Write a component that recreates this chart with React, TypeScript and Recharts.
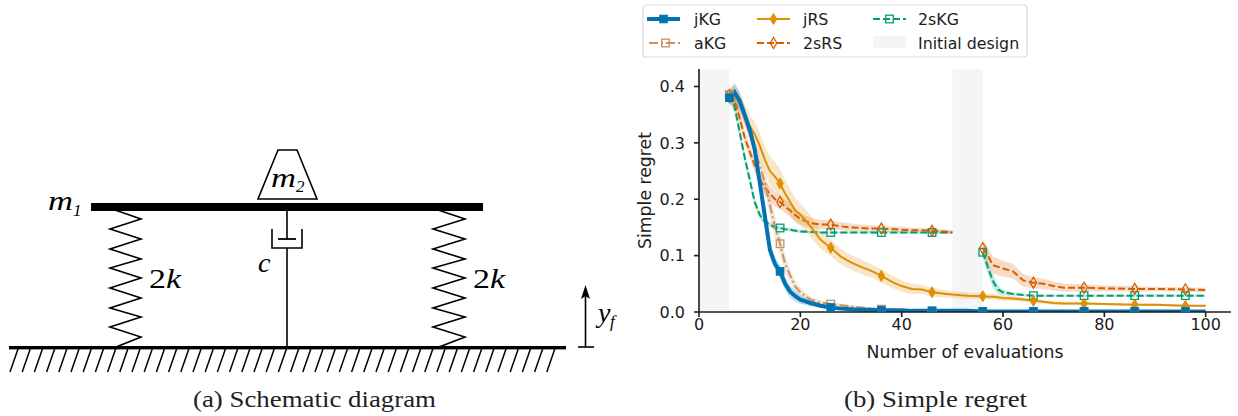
import {
  ComposedChart,
  Line,
  Area,
  XAxis,
  YAxis,
  ReferenceArea,
  Legend,
} from "recharts";

const evals = [
  6, 7, 8, 9, 10, 11, 12, 13, 14, 15, 16, 17, 18, 19, 20,
  22, 24, 26, 28, 30, 32, 34, 36, 38, 40, 42, 44, 46, 48, 50,
  53,
  56, 57, 58, 59, 60,
  62, 64, 66, 68, 70, 72,
  76, 80, 86, 90, 96, 100,
];

const jKG = [
  0.38, 0.39, 0.375, 0.35, 0.324, 0.288, 0.229, 0.17, 0.11, 0.085, 0.072, 0.05, 0.036, 0.028, 0.022,
  0.016, 0.011, 0.008, 0.006, 0.005, 0.004, 0.004, 0.003, 0.003, 0.003, 0.002, 0.002, 0.002, 0.002, 0.002,
  0.002,
  0.001, 0.001, 0.001, 0.001, 0.001,
  0.001, 0.001, 0.001, 0.001, 0.001, 0.001,
  0.001, 0.001, 0.001, 0.001, 0.001, 0.001,
];
const jKGSpread = [
  0.012, 0.016, 0.016, 0.014, 0.012, 0.012, 0.012, 0.012, 0.012, 0.012, 0.012, 0.012, 0.011, 0.01, 0.008,
  0.006, 0.004, 0.003, 0.002, 0.002, 0.001, 0.001, 0.001, 0.001, 0.001, 0.001, 0.001, 0.001, 0.001, 0.001,
  0.001,
  0.001, 0.001, 0.001, 0.001, 0.001,
  0.001, 0.001, 0.001, 0.001, 0.001, 0.001,
  0.001, 0.001, 0.001, 0.001, 0.001, 0.001,
];

const aKG = [
  0.385, 0.38, 0.37, 0.345, 0.315, 0.29, 0.26, 0.23, 0.19, 0.15, 0.121, 0.085, 0.065, 0.045, 0.035,
  0.022, 0.017, 0.014, 0.012, 0.01, 0.008, 0.006, 0.005, 0.004, 0.003, 0.003, 0.002, 0.002, 0.002, 0.002,
  0.002,
  0.001, 0.001, 0.001, 0.001, 0.001,
  0.001, 0.001, 0.001, 0.001, 0.001, 0.001,
  0.001, 0.001, 0.001, 0.001, 0.001, 0.001,
];
const aKGSpread = [
  0.01, 0.012, 0.012, 0.012, 0.014, 0.016, 0.018, 0.02, 0.02, 0.02, 0.018, 0.015, 0.012, 0.01, 0.008,
  0.005, 0.004, 0.003, 0.003, 0.002, 0.002, 0.002, 0.002, 0.001, 0.001, 0.001, 0.001, 0.001, 0.001, 0.001,
  0.001,
  0.001, 0.001, 0.001, 0.001, 0.001,
  0.001, 0.001, 0.001, 0.001, 0.001, 0.001,
  0.001, 0.001, 0.001, 0.001, 0.001, 0.001,
];

const jRS = [
  0.38, 0.385, 0.37, 0.35, 0.33, 0.315, 0.295, 0.27, 0.25, 0.24, 0.228, 0.21, 0.195, 0.18, 0.173,
  0.152, 0.128, 0.114, 0.098, 0.088, 0.08, 0.073, 0.064, 0.054, 0.046, 0.041, 0.04, 0.035, 0.033, 0.031,
  0.029,
  0.028, 0.027, 0.027, 0.026, 0.025,
  0.024, 0.022, 0.02, 0.018, 0.016, 0.015,
  0.015, 0.014, 0.013, 0.013, 0.011, 0.011,
];
const jRSSpread = [
  0.015, 0.018, 0.02, 0.02, 0.02, 0.022, 0.022, 0.024, 0.026, 0.026, 0.025, 0.024, 0.023, 0.022, 0.02,
  0.02, 0.016, 0.015, 0.014, 0.013, 0.013, 0.012, 0.012, 0.011, 0.01, 0.009, 0.008, 0.008, 0.007, 0.006,
  0.006,
  0.005, 0.005, 0.005, 0.005, 0.005,
  0.004, 0.004, 0.004, 0.003, 0.003, 0.003,
  0.003, 0.002, 0.002, 0.002, 0.002, 0.002,
];

const twoSRS = [
  0.385, 0.375, 0.345, 0.31, 0.285, 0.26, 0.235, 0.22, 0.21, 0.2, 0.195, 0.187, 0.18, 0.172, 0.165,
  0.158, 0.155, 0.155, 0.152, 0.15, 0.149, 0.148, 0.148, 0.147, 0.146, 0.145, 0.145, 0.144, 0.143, 0.142,
  null,
  0.113, 0.1, 0.083, 0.08, 0.077,
  0.072, 0.056, 0.052, 0.05, 0.046, 0.043,
  0.043, 0.042, 0.041, 0.041, 0.04, 0.039,
];
const twoSRSSpread = [
  0.01, 0.012, 0.012, 0.012, 0.012, 0.012, 0.013, 0.013, 0.013, 0.013, 0.012, 0.012, 0.012, 0.011, 0.01,
  0.009, 0.008, 0.008, 0.007, 0.007, 0.006, 0.006, 0.005, 0.005, 0.005, 0.004, 0.004, 0.004, 0.004, 0.003,
  null,
  0.015, 0.015, 0.015, 0.015, 0.014,
  0.013, 0.011, 0.01, 0.009, 0.008, 0.007,
  0.006, 0.005, 0.005, 0.004, 0.004, 0.004,
];

const twoSKG = [
  0.385, 0.365, 0.32, 0.275, 0.235, 0.195, 0.172, 0.16, 0.155, 0.15, 0.149, 0.147, 0.146, 0.144, 0.143,
  0.142, 0.141, 0.141, 0.141, 0.141, 0.141, 0.141, 0.141, 0.141, 0.141, 0.141, 0.141, 0.141, 0.141, 0.141,
  null,
  0.106, 0.08, 0.055, 0.04, 0.035,
  0.032, 0.03, 0.029, 0.029, 0.029, 0.029,
  0.029, 0.029, 0.029, 0.029, 0.029, 0.029,
];
const twoSKGSpread = [
  0.012, 0.012, 0.012, 0.011, 0.01, 0.009, 0.007, 0.005, 0.004, 0.004, 0.003, 0.003, 0.003, 0.003, 0.003,
  0.002, 0.002, 0.002, 0.002, 0.002, 0.002, 0.002, 0.002, 0.002, 0.002, 0.002, 0.002, 0.002, 0.002, 0.002,
  null,
  0.01, 0.012, 0.012, 0.008, 0.005,
  0.003, 0.002, 0.002, 0.002, 0.002, 0.002,
  0.002, 0.002, 0.002, 0.002, 0.002, 0.002,
];

const markerEvals = [6, 16, 26, 36, 46, 56, 66, 76, 86, 96];
const xTicks = [0, 20, 40, 60, 80, 100];
const yTicks = [0, 0.1, 0.2, 0.3, 0.4];
const initialDesign = [
  [0, 6],
  [50, 56],
];

const series = [
  { name: "2sKG", values: twoSKG, spread: twoSKGSpread, color: "#029e73", marker: "square", open: true, dash: "7 3", width: 2 },
  { name: "2sRS", values: twoSRS, spread: twoSRSSpread, color: "#d55e00", marker: "diamond", open: true, dash: "7 3", width: 2 },
  { name: "jRS", values: jRS, spread: jRSSpread, color: "#de8f05", marker: "diamond", open: false, dash: undefined, width: 2 },
  { name: "aKG", values: aKG, spread: aKGSpread, color: "#ca9161", marker: "square", open: true, dash: "9 3 2 3", width: 2 },
  { name: "jKG", values: jKG, spread: jKGSpread, color: "#0173b2", marker: "square", open: false, dash: undefined, width: 4 },
];

const chartData = evals.map((x, i) => {
  const row: Record<string, any> = { x };
  series.forEach((s) => {
    const v = s.values[i];
    const sp = s.spread[i];
    row[s.name] = v;
    row[s.name + "Band"] = v === null || sp === null ? null : [Math.max(0, v - sp), v + sp];
  });
  return row;
});

const FONT = "DejaVu Sans";
const SERIF = "Liberation Serif";
const INK = "#1c1c1c";

function Marker({ cx, cy, kind, color, open }: any) {
  const fill = open ? "none" : color;
  if (kind === "square") {
    return <rect x={cx - 3.8} y={cy - 3.8} width={7.6} height={7.6} fill={fill} stroke={color} strokeWidth={open ? 1.3 : 1} />;
  }
  const points = `${cx},${cy - 5.5} ${cx + 3.3},${cy} ${cx},${cy + 5.5} ${cx - 3.3},${cy}`;
  return <polygon points={points} fill={fill} stroke={color} strokeWidth={open ? 1.3 : 1} />;
}

function LegendContent() {
  const rows = [
    { name: "jKG", color: "#0173b2", marker: "square", open: false, dash: undefined, width: 4, sw: 647, tx: 694, y: 19 },
    { name: "jRS", color: "#de8f05", marker: "diamond", open: false, dash: undefined, width: 2, sw: 757, tx: 803, y: 19 },
    { name: "2sKG", color: "#029e73", marker: "square", open: true, dash: "7 3", width: 2, sw: 873, tx: 918, y: 19 },
    { name: "aKG", color: "#ca9161", marker: "square", open: true, dash: "9 3 2 3", width: 2, sw: 649, tx: 694, y: 43 },
    { name: "2sRS", color: "#d55e00", marker: "diamond", open: true, dash: "7 3", width: 2, sw: 757, tx: 803, y: 43 },
  ];
  return (
    <svg width={386} height={54} style={{ display: "block" }}>
      <g transform="translate(-642,-4)">
        <rect x={643} y={5} width={384} height={52} rx={3} fill="#fff" stroke="#d9d9d9" strokeWidth={1.2} />
        {rows.map((r) => (
          <g key={r.name}>
            <line x1={r.sw} x2={r.sw + 33} y1={r.y} y2={r.y} stroke={r.color} strokeWidth={r.width} strokeDasharray={r.dash} />
            <Marker cx={r.sw + 16.5} cy={r.y} kind={r.marker} color={r.color} open={r.open} />
            <text x={r.tx} y={r.y + 5.5} fontFamily={FONT} fontSize={15.8} fill={INK}>{r.name}</text>
          </g>
        ))}
        <rect x={873} y={36} width={33} height={12} fill="#f5f5f5" />
        <text x={918} y={48.5} fontFamily={FONT} fontSize={15.8} fill={INK}>Initial design</text>
      </g>
    </svg>
  );
}

function springPoints(x0: number, left: number, right: number) {
  const ys = [219, 229, 239, 249, 259, 268, 278, 288, 298, 308, 317, 327, 337];
  const pts = [`${x0},210`];
  ys.forEach((y, i) => pts.push(`${i % 2 === 0 ? right : left},${y}`));
  pts.push(`${x0 + 1},347`);
  return pts.join(" ");
}

function Schematic() {
  const hatchTops = [];
  for (let x = 18; x <= 566; x += 12.2) hatchTops.push(x);
  const mathText = { fontFamily: SERIF, fontStyle: "italic", fill: "#000", lengthAdjust: "spacingAndGlyphs" } as const;
  return (
    <svg width={1238} height={416} style={{ position: "absolute", left: 0, top: 0 }}>
      <rect x={91} y={203} width={392} height={8} fill="#000" />
      <polygon points="278,150 297,150 317,199 258,199" fill="#fff" stroke="#000" strokeWidth={1.6} />
      <text x={271} y={187} fontSize={27} textLength={25} {...mathText}>m</text>
      <text x={296} y={192} fontSize={17} {...mathText}>2</text>
      <text x={48} y={210} fontSize={27} textLength={25} {...mathText}>m</text>
      <text x={73} y={216} fontSize={17} {...mathText}>1</text>
      <polyline points={springPoints(115, 110, 141)} fill="none" stroke="#000" strokeWidth={1.6} />
      <polyline points={springPoints(438, 433, 465)} fill="none" stroke="#000" strokeWidth={1.6} />
      <line x1={287} x2={287} y1={211} y2={239} stroke="#000" strokeWidth={1.6} />
      <line x1={278} x2={296} y1={239} y2={239} stroke="#000" strokeWidth={1.8} />
      <polyline points="272,229 272,248 302,248 302,229" fill="none" stroke="#000" strokeWidth={1.6} />
      <line x1={287} x2={287} y1={248} y2={347} stroke="#000" strokeWidth={1.6} />
      <text x={258} y={272} fontSize={28} {...mathText}>c</text>
      <text x={149} y={288} fontSize={28} fontFamily={SERIF} textLength={32} lengthAdjust="spacingAndGlyphs">2<tspan fontStyle="italic">k</tspan></text>
      <text x={473} y={288} fontSize={28} fontFamily={SERIF} textLength={32} lengthAdjust="spacingAndGlyphs">2<tspan fontStyle="italic">k</tspan></text>
      <rect x={9} y={346} width={557} height={3.4} fill="#000" />
      {hatchTops.map((x) => (
        <line key={x} x1={x} x2={x - 8} y1={349} y2={372} stroke="#000" strokeWidth={1.5} />
      ))}
      <line x1={585.5} x2={585.5} y1={347} y2={295} stroke="#000" strokeWidth={1.6} />
      <line x1={578} x2={594} y1={347} y2={347} stroke="#000" strokeWidth={1.6} />
      <polygon points="585.5,285 590,299 585.5,296 581,299" fill="#000" />
      <text x={598} y={322} fontSize={28} {...mathText}>y</text>
      <text x={610} y={327} fontSize={17} {...mathText}>f</text>
      <text x={193} y={407} fontSize={23} fontFamily={SERIF} textLength={243} lengthAdjust="spacingAndGlyphs" fill="#222">(a) Schematic diagram</text>
      <text x={844} y={407} fontSize={23} fontFamily={SERIF} textLength={183} lengthAdjust="spacingAndGlyphs" fill="#222">(b) Simple regret</text>
    </svg>
  );
}

export default function App() {
  return (
    <div style={{ position: "absolute", left: 0, top: 0, width: 1238, height: 416, background: "#fff" }}>
      <Schematic />
      <div style={{ position: "absolute", left: 0, top: 0 }}>
        <ComposedChart
          width={1238}
          height={416}
          data={chartData}
          margin={{ top: 69, right: 7, bottom: 44, left: 639 }}
        >
          {initialDesign.map(([a, b]) => (
            <ReferenceArea key={a} x1={a} x2={b} fill="#808080" fillOpacity={0.08} stroke="none" />
          ))}
          <XAxis
            dataKey="x"
            type="number"
            domain={[0, 105]}
            ticks={xTicks}
            height={60}
            allowDataOverflow
            stroke={INK}
            strokeWidth={1.6}
            tickSize={5}
            tick={{ fontFamily: FONT, fontSize: 16, fill: INK }}
            label={{ value: "Number of evaluations", position: "insideBottom", offset: 14, fontFamily: FONT, fontSize: 17.3, fill: INK }}
          />
          <YAxis
            type="number"
            domain={[0, 0.431]}
            ticks={yTicks}
            width={60}
            allowDataOverflow
            stroke={INK}
            strokeWidth={1.6}
            tickSize={5}
            tickMargin={9}
            tickFormatter={(v: number) => v.toFixed(1)}
            tick={{ fontFamily: FONT, fontSize: 16, fill: INK }}
            label={{ value: "Simple regret", angle: -90, position: "insideLeft", offset: 6, fontFamily: FONT, fontSize: 17.3, fill: INK, style: { textAnchor: "middle" } }}
          />
          {series.map((s) => (
            <Area
              key={s.name + "Band"}
              dataKey={s.name + "Band"}
              type="linear"
              stroke="none"
              fill={s.color}
              fillOpacity={0.22}
              dot={false}
              activeDot={false}
              legendType="none"
              isAnimationActive={false}
            />
          ))}
          {series.map((s) => (
            <Line
              key={s.name}
              dataKey={s.name}
              type="linear"
              stroke={s.color}
              strokeWidth={s.width}
              strokeDasharray={s.dash}
              activeDot={false}
              isAnimationActive={false}
              dot={(p: any) =>
                markerEvals.includes(p.payload.x) ? (
                  <Marker key={p.index} cx={p.cx} cy={p.cy} kind={s.marker} color={s.color} open={s.open} />
                ) : (
                  <g key={p.index} />
                )
              }
            />
          ))}
          <Legend
            layout="horizontal"
            verticalAlign="middle"
            content={<LegendContent />}
            wrapperStyle={{ position: "absolute", left: 642, top: 4, width: 386, height: 54 }}
          />
        </ComposedChart>
      </div>
    </div>
  );
}
